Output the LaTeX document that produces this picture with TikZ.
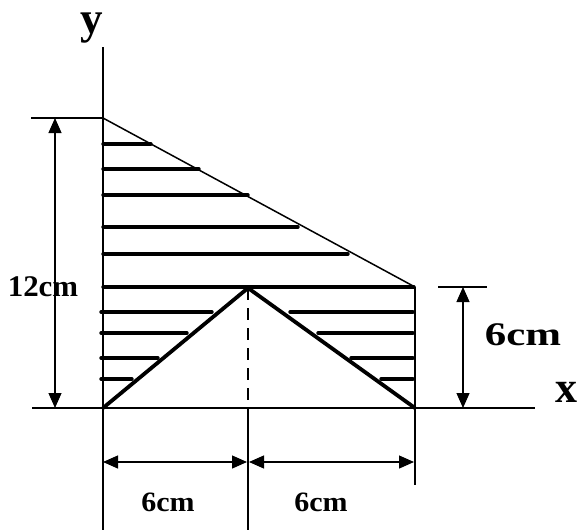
\documentclass[tikz,border=0pt]{standalone}
\usepackage{fontspec}
\setmainfont{Liberation Serif}
\usetikzlibrary{arrows.meta}
\begin{document}
\begin{tikzpicture}[x=1pt,y=-1pt,
  thin line/.style={line width=1.2pt},
  slope line/.style={line width=1.5pt},
  thick line/.style={line width=3.8pt},
  hatch/.style={line width=3.4pt, line cap=round},
  dim/.style={line width=1.2pt, {Triangle[length=15pt,width=13pt]}-{Triangle[length=15pt,width=13pt]}},
  lbl/.style={inner sep=0pt, font=\bfseries}
]
\useasboundingbox (0,0) rectangle (577,530);
% key points
\coordinate (O) at (103,408);
\coordinate (T) at (103,118);
\coordinate (P) at (415,287);
\coordinate (Q) at (415,408);
\coordinate (A) at (248,288);
\coordinate (Ab) at (248,408);
\coordinate (Yt) at (103,47);
\coordinate (Yb) at (103,530);
\coordinate (Xl) at (32,408);
\coordinate (Xr) at (535,408);
\coordinate (Tl) at (31,118);
\coordinate (Rb) at (415,485);
\coordinate (Mb) at (248,530);
% axes
\draw[thin line] (Yt) -- (Yb);
\draw[thin line] (Xl) -- (Xr);
\draw[thin line] (Tl) -- (T);
\draw[slope line] (T) -- (P);
\draw[thin line] (P) -- (Rb);
\draw[line width=2.6pt, dash pattern=on 12pt off 8pt] (A) -- (Ab);
\draw[thin line] (Ab) -- (Mb);
% hatching
\foreach \y/\xe in {144/151, 169/199, 195/248, 227/298, 254/348}
  \draw[hatch] (103,\y) -- (\xe,\y);
\draw[hatch] (103,287) -- (414,287);
\foreach \y/\xe in {312/212, 333/187, 358/158, 379/132}
  \draw[hatch] (101,\y) -- (\xe,\y);
\foreach \y/\xs in {312/290, 333/318, 358/351, 379/381}
  \draw[hatch] (\xs,\y) -- (413,\y);
% triangle
\draw[thick line, line join=miter] (O) -- (A) -- (Q);
% dimensions
\coordinate (D12t) at (55,118);
\coordinate (D12b) at (55,408);
\draw[dim] (D12t) -- (D12b);
\coordinate (R1) at (438,287);
\coordinate (R2) at (487,287);
\draw[thin line] (R1) -- (R2);
\coordinate (D6t) at (463,287);
\coordinate (D6b) at (463,408);
\draw[dim] (D6t) -- (D6b);
\coordinate (B1) at (103,462);
\coordinate (B2) at (247,462);
\coordinate (B3) at (249,462);
\coordinate (B4) at (414,462);
\draw[dim] (B1) -- (B2);
\draw[dim] (B3) -- (B4);
% labels
\node[lbl, font=\bfseries\fontsize{45}{50}\selectfont] (ylab) at (92,28) {y};
\node[lbl, font=\bfseries\fontsize{44}{50}\selectfont] (xlab) at (566,392) {x};
\node[lbl, font=\bfseries\fontsize{30}{36}\selectfont, xscale=1.03] (l12) at (43,287) {12cm};
\node[lbl, font=\bfseries\fontsize{33}{40}\selectfont, xscale=1.3] (l6r) at (523,335) {6cm};
\node[lbl, font=\bfseries\fontsize{28}{34}\selectfont, xscale=1.07] (l6a) at (168,502) {6cm};
\node[lbl, font=\bfseries\fontsize{28}{34}\selectfont, xscale=1.07] (l6b) at (321,502) {6cm};
\end{tikzpicture}
\end{document}
